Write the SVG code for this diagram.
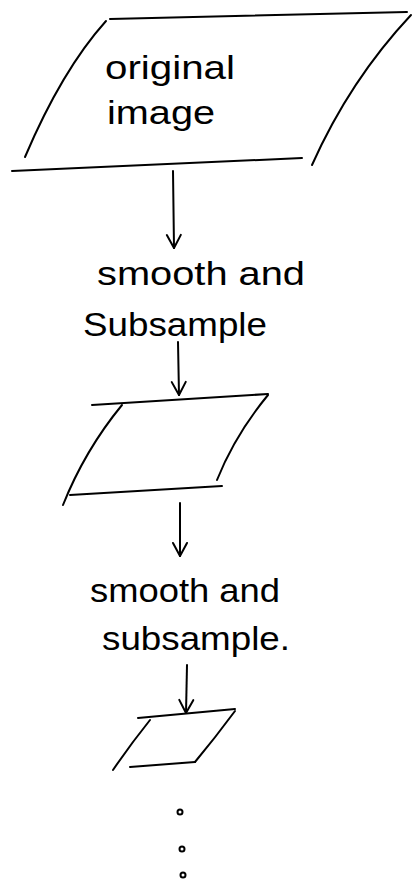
<svg xmlns="http://www.w3.org/2000/svg" width="416" height="889" viewBox="0 0 416 889">
<defs>
<style>
.s{fill:none;stroke:#000;stroke-width:2;stroke-linecap:round;stroke-linejoin:round}
.t{font-family:"Liberation Sans","DejaVu Sans",sans-serif;font-size:34px;fill:#000}
</style>
<marker id="ah" markerWidth="18" markerHeight="18" refX="15" refY="9" orient="auto" markerUnits="userSpaceOnUse" viewBox="0 0 18 18">
<path d="M2,2 L15,9 L2,16" fill="none" stroke="#000" stroke-width="2" stroke-linecap="round" stroke-linejoin="round"/>
</marker>
</defs>
<rect width="416" height="889" fill="#fff"/>
<g id="node-original">
<path class="s" d="M110,19 L407,12"/>
<path class="s" d="M106,21 Q62,70 25,157"/>
<path class="s" d="M12,171 L302,158"/>
<path class="s" d="M411,15 Q350,80 312,165"/>
<text class="t" x="105" y="79" textLength="130" lengthAdjust="spacingAndGlyphs">original</text>
<text class="t" x="107" y="124" textLength="108" lengthAdjust="spacingAndGlyphs">image</text>
</g>
<g id="label-1">
<text class="t" x="97" y="285" textLength="208" lengthAdjust="spacingAndGlyphs">smooth and</text>
<text class="t" x="83" y="336" textLength="184" lengthAdjust="spacingAndGlyphs">Subsample</text>
</g>
<g id="node-level1">
<path class="s" d="M92,405 L268,394"/>
<path class="s" d="M122,405 Q85,450 63,505"/>
<path class="s" d="M70,495 L222,486"/>
<path class="s" d="M268,395 Q235,435 217,480"/>
</g>
<g id="label-2">
<text class="t" x="90" y="602" textLength="190" lengthAdjust="spacingAndGlyphs">smooth and</text>
<text class="t" x="102" y="650" textLength="188" lengthAdjust="spacingAndGlyphs">subsample.</text>
</g>
<g id="node-level2">
<path class="s" d="M138,718 L235,709"/>
<path class="s" d="M150,720 Q130,745 113,770"/>
<path class="s" d="M130,767 L195,762"/>
<path class="s" d="M235,711 Q215,738 195,762"/>
</g>
<g id="ellipsis">
<circle class="s" cx="180" cy="812" r="2.5"/>
<circle class="s" cx="182" cy="849" r="2.5"/>
<circle class="s" cx="183" cy="875" r="2.5"/>
</g>
<g id="connectors">
<path class="s" d="M173,171 L174,248" marker-end="url(#ah)"/>
<path class="s" d="M178,342 L179,395" marker-end="url(#ah)"/>
<path class="s" d="M180,503 L180,556" marker-end="url(#ah)"/>
<path class="s" d="M187,665 L186,713" marker-end="url(#ah)"/>
</g>
</svg>
